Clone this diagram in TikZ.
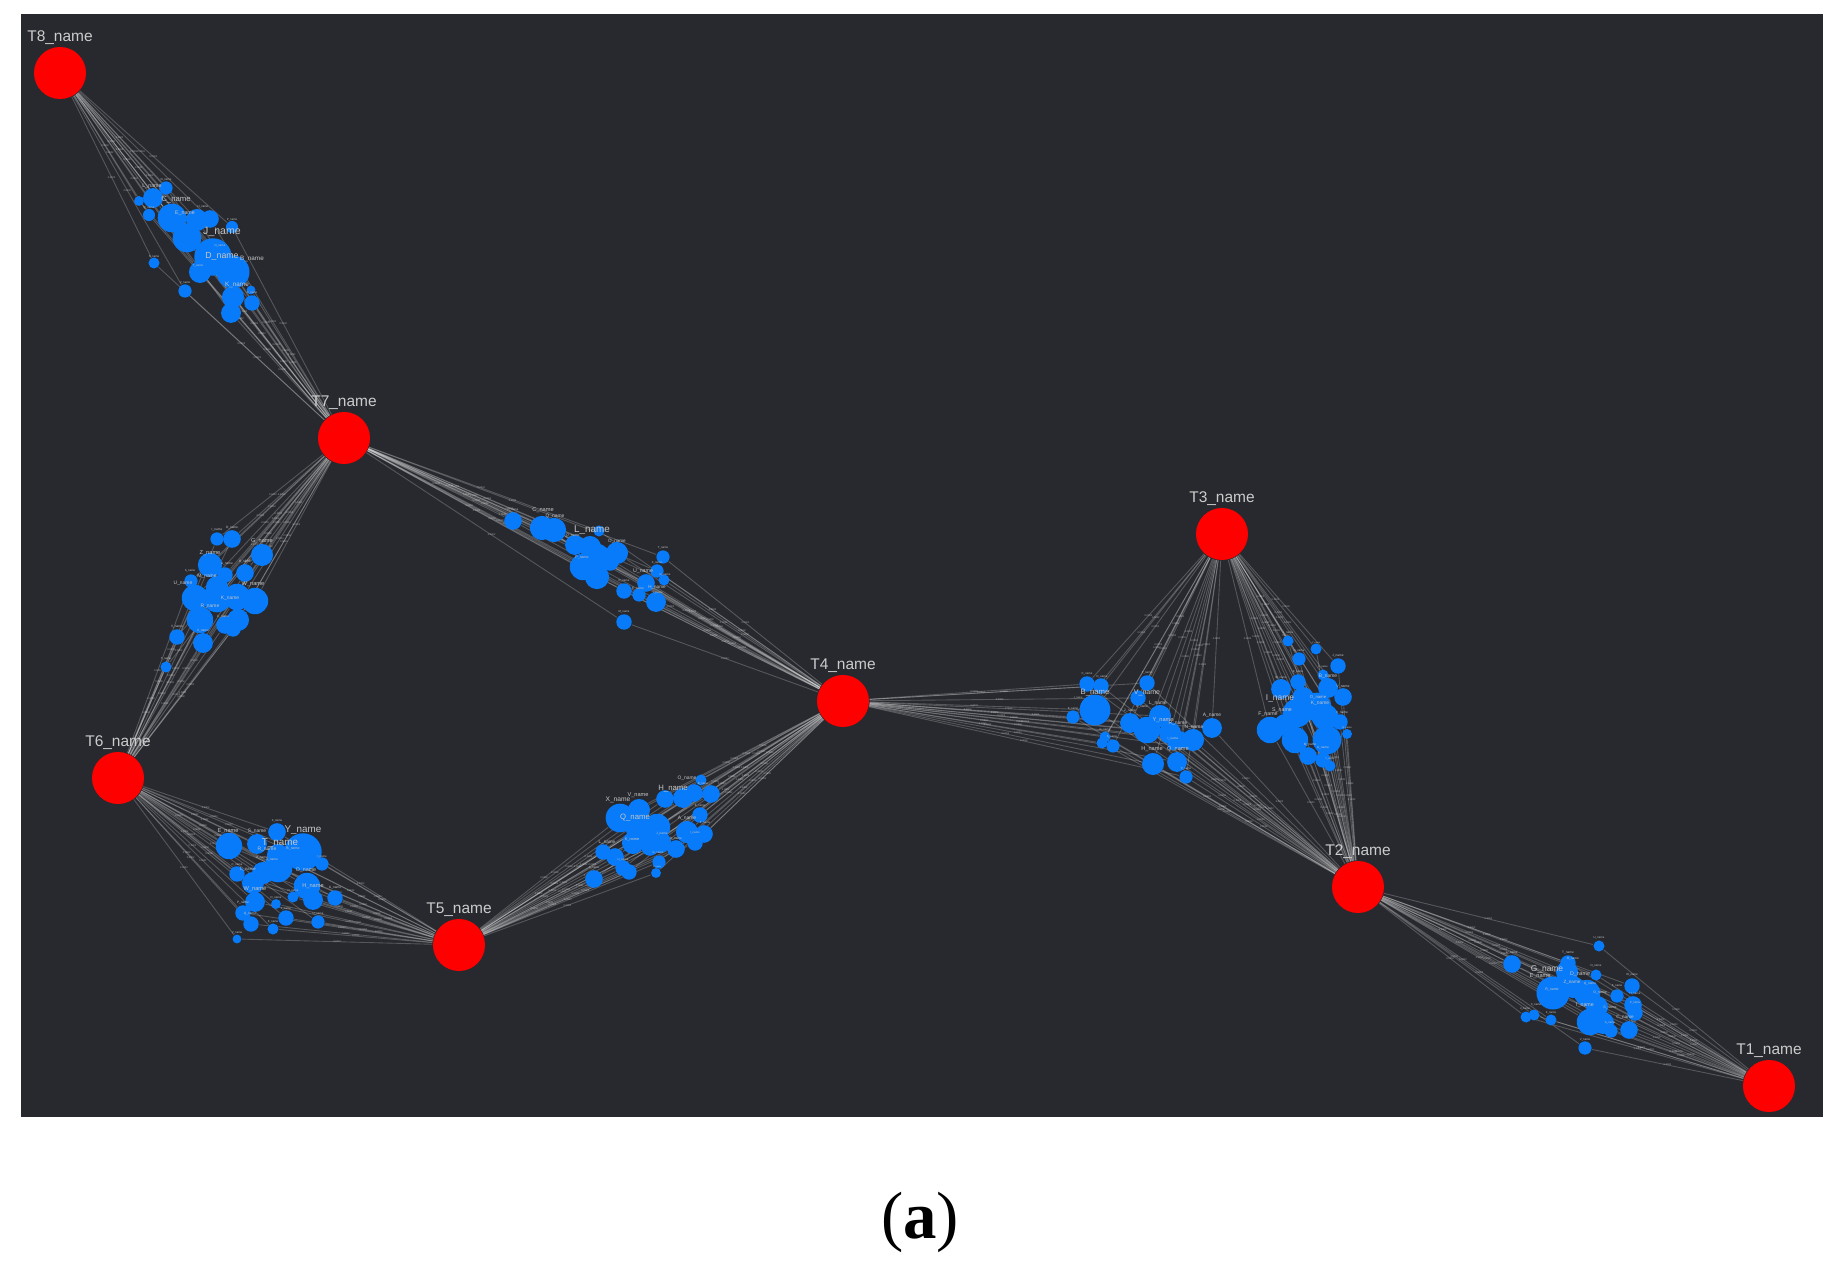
\documentclass[tikz,border=0pt]{standalone}
\usepackage{fontspec}
\newfontfamily\lsans{Liberation Sans}
\newfontfamily\lserif{Liberation Serif}
\definecolor{bgc}{RGB}{39,41,46}
\definecolor{bluec}{RGB}{8,123,250}
\definecolor{redc}{RGB}{255,0,0}
\pgfdeclarelayer{bg}
\pgfdeclarelayer{edges}
\pgfsetlayers{bg,edges,main}
\newcommand\wtxt{\ifodd\i 0.001\else 0.0002\fi}
\begin{document}
\begin{tikzpicture}[x=0.01cm,y=-0.01cm,
 hub/.style={circle,fill=redc,draw=none,minimum size=0.52cm,inner sep=0},
 bnode/.style={circle,fill=bluec,draw=none,inner sep=0},
 hlbl/.style={text=gray!40,font=\lsans\fontsize{4.4}{5}\selectfont,inner sep=0},
 blbl/.style={text=gray!45,inner sep=0},
 lnk/.style={draw=white,draw opacity=0.22,line width=0.25pt},
 wl/.style={text=white,text opacity=0.6,font=\lsans\fontsize{0.7}{0.8}\selectfont,inner sep=0}]
\begin{pgfonlayer}{bg}
\fill[white] (0,0) rectangle (1841,1270);
\fill[bgc] (21,14) rectangle (1823,1117);
\end{pgfonlayer}
\useasboundingbox (0,0) rectangle (1841,1270);
% hubs
\foreach \hn/\hx/\hy in {T1/1769/1086,T2/1358/887,T3/1222/534,T4/843/701,T5/459/945,T6/118/778,T7/344/438,T8/60/73}{
  \node[hub] (\hn) at (\hx,\hy) {};
  \node[hlbl] (\hn-l) at (\hx,\hy-35) {\hn\_name};
}
% cluster A (T8-T7)
\foreach \bx/\by/\br [count=\i] in {166/188/6,153/198/9,139/201/4.5,149/215/5.5,172/218/13,197/220/10,210/219/8,187/238/13,213/257/17,233/272/15,200/272/10,232/227/5.5,154/263/5,185/291/6,233/297/10,252/303/7,231/313/9,251/290/4}
  \node[bnode,minimum size=\br*0.022cm] (a\i) at (\bx,\by) {};
% cluster B (T7-T6)
\foreach \bx/\by/\br [count=\i] in {217/539/6,232/539/8,262/555/10,210/565/11,245/573/8,225/575/7,191/581/6,217/587/10,195/598/12,217/598/13,237/597/12,255/601/12,200/620/12,225/625/8,238/620/10,233/629/7,203/643/9,177/637/7,166/667/5}
  \node[bnode,minimum size=\br*0.022cm] (b\i) at (\bx,\by) {};
% cluster C (T7-T4)
\foreach \bx/\by/\br [count=\i] in {513/521/8,542/528/11,554/530/11,599/531/5,575/545/9,590/547/10,617/553/10,597/557/12,583/567/12,610/562/8,597/577/11,663/557/6,657/571/6,664/580/5,646/583/8,624/591/7,639/595/6,656/602/9,624/622/7}
  \node[bnode,minimum size=\br*0.022cm] (c\i) at (\bx,\by) {};
% cluster D (T4-T5)
\foreach \bx/\by/\br [count=\i] in {701/780/5,711/794/8,665/799/8,683/798/9,694/793/8,620/818/13,639/810/10,640/828/13,657/827/12,700/815/7,687/832/10,704/834/8,695/843/7,676/849/8,660/842/10,650/847/8,633/843/10,603/852/7,615/857/8,623/868/7,629/872/7,659/862/6,656/873/4.5,594/879/8}
  \node[bnode,minimum size=\br*0.022cm] (d\i) at (\bx,\by) {};
% cluster E (T6-T5)
\foreach \bx/\by/\br [count=\i] in {277/832/8,229/846/12,257/844/9,303/852/17,278/855/10,278/868/13,263/873/10,322/864/6,237/874/7,253/883/10,307/886/12,313/900/9,335/898/7,293/897/5,255/902/9,243/913/7,276/904/4.5,286/918/7,251/924/7,318/922/6,273/929/5,237/939/4}
  \node[bnode,minimum size=\br*0.022cm] (e\i) at (\bx,\by) {};
% cluster F (T4-T3-T2)
\foreach \bx/\by/\br [count=\i] in {1087/684/7,1101/686/7,1095/710/14,1073/717/6,1147/683/7,1138/698/7,1130/723/9,1147/730/12,1160/716/10,1170/733/10,1180/740/8,1193/740/10,1173/745/5,1212/728/9,1153/764/10,1177/762/9,1186/777/6,1105/737/5,1102/743/5,1113/746/6}
  \node[bnode,minimum size=\br*0.022cm] (f\i) at (\bx,\by) {};
% cluster G (T3-T2)
\foreach \bx/\by/\br [count=\i] in {1288/641/5,1316/649/5,1299/659/6,1338/666/7,1323/675/5,1298/682/7,1281/689/9,1328/688/9,1343/697/8,1303/698/10,1317/707/13,1297/713/13,1325/717/12,1270/730/12,1285/725/10,1340/722/7,1295/740/12,1327/740/13,1347/734/4.5,1308/756/8,1323/760/7,1330/766/5}
  \node[bnode,minimum size=\br*0.022cm] (g\i) at (\bx,\by) {};
% cluster H (T2-T1)
\foreach \bx/\by/\br [count=\i] in {1599/946/5,1512/964/8,1568/963/7,1567/972/10,1596/975/5,1553/993/15,1573/987/10,1587/993/12,1632/986/7,1617/996/6,1597/1007/10,1633/1005/8,1635/1013/7,1590/1022/12,1603/1023/10,1611/1031/6,1629/1030/8,1526/1017/5,1534/1015/5,1551/1020/5,1585/1048/6}
  \node[bnode,minimum size=\br*0.022cm] (h\i) at (\bx,\by) {};
% connectors
\begin{pgfonlayer}{edges}
\foreach \i in {1,...,18} \draw[lnk] (T8) -- node[wl]{\wtxt} (a\i) -- node[wl]{\wtxt} (T7);
\foreach \i in {1,...,19} \draw[lnk] (T7) -- node[wl]{\wtxt} (b\i) -- node[wl]{\wtxt} (T6);
\foreach \i in {1,...,19} \draw[lnk] (T7) -- node[wl]{\wtxt} (c\i) -- node[wl]{\wtxt} (T4);
\foreach \i in {1,...,24} \draw[lnk] (T4) -- node[wl]{\wtxt} (d\i) -- node[wl]{\wtxt} (T5);
\foreach \i in {1,...,22} \draw[lnk] (T6) -- node[wl]{\wtxt} (e\i) -- node[wl]{\wtxt} (T5);
\foreach \i in {1,...,20} {\draw[lnk] (T4) -- node[wl]{\wtxt} (f\i) -- node[wl]{\wtxt} (T2);
  \draw[lnk] (T3) -- node[wl]{\wtxt} (f\i);}
\foreach \i in {1,...,22} \draw[lnk] (T3) -- node[wl]{\wtxt} (g\i) -- node[wl]{\wtxt} (T2);
\foreach \i in {1,...,21} \draw[lnk] (T2) -- node[wl]{\wtxt} (h\i) -- node[wl]{\wtxt} (T1);
\end{pgfonlayer}
% blue node labels
\foreach \lx/\ly/\lt/\lf [count=\i] in {
152/186/L\_name/1.5,176/200/C\_name/2.2,185/213/E\_name/1.5,222/232/J\_name/3,222/256/D\_name/2.5,252/259/B\_name/1.8,237/285/K\_name/1.8,
166/180/O\_name/0.8,203/207/H\_name/0.8,232/220/P\_name/0.8,154/257/S\_name/0.8,185/283/V\_name/0.8,198/266/T\_name/0.8,252/293/X\_name/0.8,149/208/Q\_name/0.8,220/246/N\_name/0.8,
210/553/Z\_name/1.6,262/541/G\_name/1.6,253/584/W\_name/1.6,230/598/K\_name/1.4,210/606/R\_name/1.4,183/583/U\_name/1.4,207/576/M\_name/1.4,227/564/A\_name/0.9,245/562/B\_name/0.9,217/530/I\_name/0.9,232/528/D\_name/0.9,177/627/V\_name/0.9,203/631/X\_name/0.9,223/617/C\_name/0.9,166/659/T\_name/0.8,190/571/S\_name/0.8,
543/510/C\_name/1.6,555/516/Q\_name/1.4,592/530/L\_name/2.8,573/536/D\_name/1,617/541/O\_name/1.3,582/558/P\_name/1,513/510/N\_name/0.8,663/548/T\_name/0.8,657/563/F\_name/0.8,643/571/U\_name/1.5,665/575/G\_name/0.8,624/581/R\_name/0.8,657/587/H\_name/1.3,638/589/E\_name/0.9,658/593/I\_name/0.8,624/612/M\_name/0.8,
687/778/O\_name/1.4,673/789/H\_name/2.2,638/795/V\_name/1.6,618/800/X\_name/1.9,635/818/Q\_name/2.2,687/818/A\_name/1.4,662/834/J\_name/0.9,676/839/D\_name/0.9,632/840/K\_name/1.1,607/842/L\_name/1.3,695/833/I\_name/0.8,703/784/B\_name/0.8,700/806/E\_name/0.8,705/823/F\_name/0.8,658/853/G\_name/0.8,594/868/S\_name/0.8,623/860/U\_name/0.8,657/867/C\_name/0.6,
277/821/Z\_name/0.8,228/831/E\_name/1.6,257/831/S\_name/1.4,303/830/Y\_name/2.8,280/843/T\_name/2.8,267/849/R\_name/1.4,293/849/B\_name/1,262/858/X\_name/0.9,272/860/A\_name/0.9,306/870/O\_name/1.5,237/865/C\_name/0.8,248/869/L\_name/1.2,322/857/I\_name/0.8,255/889/W\_name/1.6,313/886/H\_name/1.6,335/888/G\_name/0.9,293/891/N\_name/0.8,276/898/D\_name/0.8,243/903/P\_name/0.9,250/914/Q\_name/0.9,286/909/J\_name/0.8,318/914/U\_name/0.8,273/922/K\_name/0.8,237/933/V\_name/0.8,
1087/674/C\_name/0.8,1102/677/D\_name/0.8,1095/693/B\_name/2.2,1078/698/J\_name/0.7,1073/709/E\_name/0.8,1147/673/T\_name/0.8,1147/693/V\_name/2,1158/703/L\_name/1.4,1130/711/Z\_name/0.9,1142/707/U\_name/0.9,1163/720/Y\_name/1.6,1178/723/R\_name/1.4,1194/727/N\_name/1.4,1212/715/A\_name/1.4,1105/730/G\_name/0.8,1112/737/S\_name/0.8,1173/739/I\_name/0.9,1152/749/H\_name/1.6,1178/749/Q\_name/1.6,1186/769/P\_name/0.8,
1288/633/L\_name/0.8,1316/643/C\_name/0.6,1299/651/G\_name/0.8,1338/656/J\_name/0.9,1323/667/U\_name/0.7,1298/672/E\_name/0.8,1281/678/W\_name/0.8,1328/676/B\_name/1.4,1343/687/V\_name/1,1280/698/I\_name/2.4,1318/697/O\_name/1.2,1320/703/K\_name/1.4,1268/714/F\_name/1.5,1282/710/S\_name/1.5,1342/713/X\_name/0.9,1347/728/R\_name/0.7,1310/745/M\_name/0.9,1323/748/A\_name/0.9,1330/759/T\_name/0.7,
1599/938/U\_name/0.8,1512/953/L\_name/0.9,1568/953/T\_name/0.9,1573/959/B\_name/0.9,1547/969/G\_name/2.4,1540/976/E\_name/1.6,1580/974/D\_name/1.5,1596/966/N\_name/0.8,1572/982/Z\_name/1.3,1590/984/Q\_name/0.9,1632/975/W\_name/0.8,1552/990/R\_name/1,1617/986/K\_name/0.8,1600/993/O\_name/1,1635/994/H\_name/0.8,1635/1003/P\_name/0.8,1585/1005/I\_name/1.5,1610/1008/S\_name/1,1625/1017/C\_name/1.3,1610/1023/A\_name/0.8,1525/1009/J\_name/0.8,1536/1005/X\_name/0.8,1551/1013/F\_name/0.8,1585/1040/V\_name/0.8}
  \node[blbl,font=\lsans\fontsize{\lf}{\lf}\selectfont] (lab\i) at (\lx,\ly) {\lt};
% caption
\node[inner sep=0,font=\lserif\fontsize{19}{22}\selectfont] (cap) at (920,1222) {(\textbf{a})};
\end{tikzpicture}
\end{document}
